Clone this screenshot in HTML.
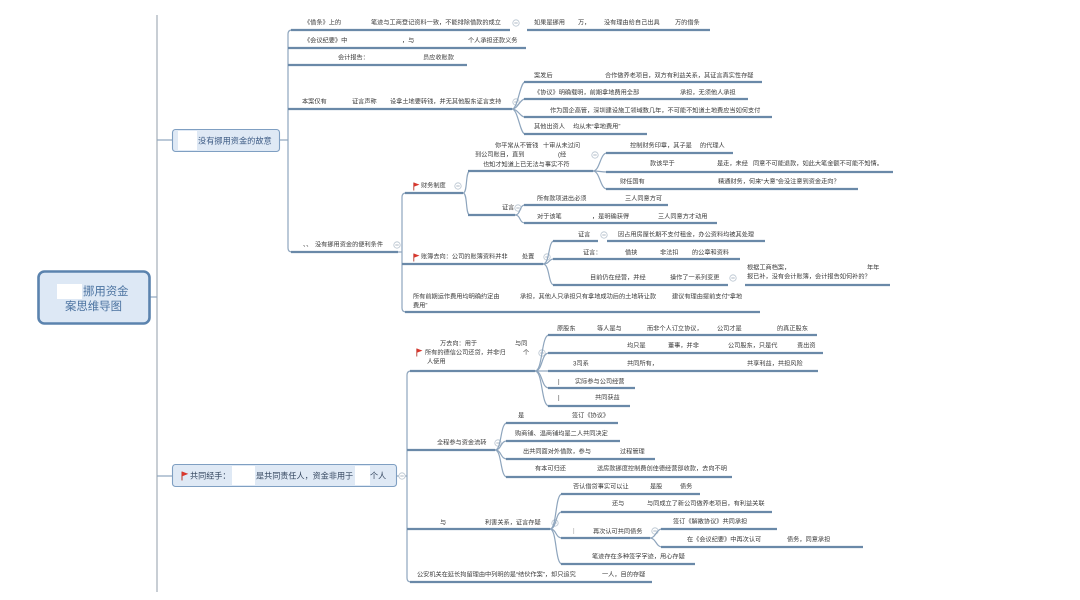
<!DOCTYPE html>
<html><head><meta charset="utf-8">
<style>
html,body{margin:0;padding:0;background:#fff;width:1080px;height:600px;overflow:hidden}
svg{display:block}
text{font-family:"Liberation Sans","Noto Sans CJK SC",sans-serif;font-size:6.2px;fill:#3a3a3a;dominant-baseline:central}
.u{stroke:#6a89a8;stroke-width:2.2;fill:none}
.c{stroke:#8ea5bd;stroke-width:1.2;fill:none}
.mc{fill:#fff;stroke:#b7c3cf;stroke-width:0.8}
.ml{stroke:#9aa8b6;stroke-width:0.8}
</style></head><body>
<svg width="1080" height="600" viewBox="0 0 1080 600">
<defs>
<symbol id="m" viewBox="0 0 8 8"><circle class="mc" cx="4" cy="4" r="3.2"/><line class="ml" x1="2.3" y1="4" x2="5.7" y2="4"/></symbol>
<symbol id="f" viewBox="0 0 7 9"><line x1="0.8" y1="0.5" x2="0.8" y2="8.5" stroke="#b03a30" stroke-width="0.9"/><polygon points="0.8,0.5 6.5,2.6 0.8,4.8" fill="#d9362c"/></symbol>
</defs>

<!-- far-left vertical -->
<line x1="157" y1="15" x2="157" y2="592" stroke="#aab4be" stroke-width="1.3"/>

<!-- ROOT -->
<line x1="150" y1="297" x2="157" y2="297" class="c"/>
<rect x="38.5" y="271.5" width="111" height="52" rx="6" fill="#dde8f5" stroke="#5b83ae" stroke-width="2.6"/>
<rect x="57" y="284" width="25" height="15" fill="#fff"/>
<text x="83" y="292" style="font-size:11.4px;fill:#4a72a0">挪用资金</text>
<text x="65" y="307" style="font-size:11.4px;fill:#4a72a0">案思维导图</text>

<!-- BRANCH 1 node -->
<line x1="157" y1="140" x2="172" y2="140" class="c"/>
<line x1="280" y1="140" x2="288" y2="140" class="c"/>
<rect x="172.5" y="129.5" width="107" height="22" rx="3" fill="#dfe9f5" stroke="#7f9fc2" stroke-width="1.1"/>
<rect x="178" y="131" width="19" height="19" fill="#fff"/>
<text x="198" y="141" style="font-size:8.2px;fill:#3a5882">没有挪用资金的故意</text>

<path class="c" d="M292,30 Q288,30 288,34 L288,248 Q288,252 292,252"/>

<!-- item 1 -->
<text x="304" y="23">《借条》上的</text>
<text x="371" y="23">笔迹与工商登记资料一致，不能排除借款的成立</text>
<line class="u" x1="291" y1="30" x2="510" y2="30"/>
<use href="#m" x="512" y="19" width="8" height="8"/>
<text x="534" y="23">如果是挪用</text>
<text x="578" y="23">万，</text>
<text x="604" y="23">没有理由给自己出具</text>
<text x="675" y="23">万的借条</text>
<line class="u" x1="527" y1="30" x2="710" y2="30"/>

<!-- item 2 -->
<text x="304" y="41">《会议纪要》中</text>
<text x="402" y="41">，与</text>
<text x="468" y="41">个人承担还款义务</text>
<line class="u" x1="288" y1="48" x2="526" y2="48"/>

<!-- item 3 -->
<text x="338" y="58">会计报告：</text>
<text x="423" y="58">员应收账款</text>
<line class="u" x1="288" y1="65" x2="467" y2="65"/>

<!-- item 4 -->
<text x="302" y="102">本案仅有</text>
<text x="352" y="102">证言声称</text>
<text x="390" y="102">设拿土地要转钱，并无其他股东证言支持</text>
<line class="u" x1="288" y1="109" x2="512" y2="109"/>
<use href="#m" x="512" y="98" width="8" height="8"/>
<path class="c" d="M512,109 C518,109 520,82 525,82"/>
<path class="c" d="M512,109 C518,109 520,99 525,99"/>
<path class="c" d="M512,109 C518,109 520,117 525,117"/>
<path class="c" d="M512,109 C518,109 520,134 525,134"/>
<text x="534" y="76">案发后</text>
<text x="605" y="76">合作做养老项目，双方有利益关系，其证言真实性存疑</text>
<line class="u" x1="524" y1="82" x2="762" y2="82"/>
<text x="534" y="93">《协议》明确载明，前期拿地费用全部</text>
<text x="680" y="93">承担，无须他人承担</text>
<line class="u" x1="524" y1="99" x2="748" y2="99"/>
<text x="550" y="111">作为国企高管，深圳建设施工领域数几年，不可能不知道土地费应当如何支付</text>
<line class="u" x1="524" y1="117" x2="772" y2="117"/>
<text x="534" y="127">其他出资人</text>
<text x="573" y="127">均从未“拿地费用”</text>
<line class="u" x1="524" y1="134" x2="647" y2="134"/>

<!-- item 5 -->
<text x="303" y="245">、、</text>
<text x="315" y="245">没有挪用资金的便利条件</text>
<line class="u" x1="291" y1="252" x2="398" y2="252"/>
<use href="#m" x="393" y="241" width="8" height="8"/>
<line x1="398" y1="252" x2="402" y2="252" class="c"/>
<path class="c" d="M406,193 Q402,193 402,197 L402,308 Q402,312 406,312"/>

<!-- 5a 财务制度 -->
<use href="#f" x="413" y="182" width="7" height="9"/>
<text x="421" y="186">财务制度</text>
<line class="u" x1="405" y1="193" x2="463" y2="193"/>
<use href="#m" x="454" y="182" width="8" height="8"/>
<path class="c" d="M463,193 C468,193 465,171 470,171"/>
<path class="c" d="M463,193 C468,193 465,215 470,215"/>

<text x="495" y="146">你平常从不管钱</text>
<text x="543" y="146">十审从未过问</text>
<text x="475" y="155">到公司账目，直到</text>
<text x="558" y="155">(经</text>
<text x="483" y="165">也知才知道上已无法与事实不符</text>
<line class="u" x1="468" y1="171" x2="593" y2="171"/>
<use href="#m" x="591" y="151" width="8" height="8"/>
<path class="c" d="M593,171 C600,171 600,153 607,153"/>
<path class="c" d="M593,171 C600,171 600,172 607,172"/>
<path class="c" d="M593,171 C600,171 600,189 607,189"/>
<text x="630" y="146">控制财务印章，其子是</text>
<text x="700" y="146">的代理人</text>
<line class="u" x1="606" y1="153" x2="733" y2="153"/>
<text x="650" y="164">款该早于</text>
<text x="717" y="164">是走，未经</text>
<text x="753" y="164">同意不可能退款，如此大笔金额不可能不知情。</text>
<line class="u" x1="606" y1="172" x2="893" y2="172"/>
<text x="620" y="182">财任国有</text>
<text x="718" y="182">精通财务，何来“大意”会没注意到资金走向？</text>
<line class="u" x1="606" y1="189" x2="858" y2="189"/>

<text x="502" y="208">证言</text>
<use href="#m" x="514" y="204" width="8" height="8"/>
<line class="u" x1="468" y1="215" x2="515" y2="215"/>
<path class="c" d="M515,215 C521,215 519,205 525,205"/>
<path class="c" d="M515,215 C521,215 519,223 525,223"/>
<text x="537" y="199">所有款项进出必须</text>
<text x="625" y="199">三人同意方可</text>
<line class="u" x1="524" y1="205" x2="668" y2="205"/>
<text x="537" y="217">对于该笔</text>
<text x="592" y="217">，是明确获得</text>
<text x="658" y="217">三人同意方才动用</text>
<line class="u" x1="524" y1="223" x2="717" y2="223"/>

<!-- 5b 账簿去向 -->
<use href="#f" x="413" y="253" width="7" height="9"/>
<text x="421" y="257">账簿去向：公司的账簿资料并非</text>
<text x="522" y="257">处置</text>
<use href="#m" x="543" y="253" width="8" height="8"/>
<line class="u" x1="402" y1="264" x2="543" y2="264"/>
<path class="c" d="M543,264 C550,264 548,241 554,241"/>
<path class="c" d="M543,264 C550,264 548,259 554,259"/>
<path class="c" d="M543,264 C550,264 548,285 554,285"/>
<text x="578" y="235">证言</text>
<line class="u" x1="553" y1="241" x2="598" y2="241"/>
<use href="#m" x="600" y="231" width="8" height="8"/>
<text x="618" y="235">因占用房屋长期不支付租金，办公资料均被其处理</text>
<line class="u" x1="607" y1="241" x2="765" y2="241"/>
<text x="583" y="253">证言：</text>
<text x="625" y="253">借挟</text>
<text x="660" y="253">非法扣</text>
<text x="692" y="253">的公章和资料</text>
<line class="u" x1="553" y1="259" x2="740" y2="259"/>
<text x="590" y="278">目前仍在经营，并经</text>
<text x="670" y="278">操作了一系列变更</text>
<line class="u" x1="553" y1="285" x2="728" y2="285"/>
<use href="#m" x="729" y="274" width="8" height="8"/>
<text x="747" y="268">根据工商档案，</text>
<text x="867" y="268">年年</text>
<text x="747" y="277">报已补，没有会计账簿，会计报告如何补的？</text>
<line class="u" x1="745" y1="285" x2="890" y2="285"/>

<!-- 5c -->
<text x="413" y="297">所有前期运作费用均明确约定由</text>
<text x="413" y="306">费用”</text>
<text x="520" y="297">承担，其他人只承担只有拿地成功后的土地转让款</text>
<text x="672" y="297">建议有理由提前支付“拿地</text>
<line class="u" x1="405" y1="312" x2="760" y2="312"/>

<!-- BRANCH 2 node -->
<line x1="157" y1="476" x2="172" y2="476" class="c"/>
<line x1="397" y1="476" x2="407" y2="476" class="c"/>
<rect x="172.5" y="464.5" width="224" height="22" rx="3" fill="#dfe9f5" stroke="#7f9fc2" stroke-width="1.1"/>
<rect x="232" y="466" width="23" height="19" fill="#fff"/>
<rect x="355" y="466" width="15" height="19" fill="#fff"/>
<use href="#f" x="181" y="471" width="8" height="10"/>
<text x="190" y="476" style="font-size:8.1px;fill:#34465f">共同经手：</text>
<text x="256" y="476" style="font-size:8.1px;fill:#34465f">是共同责任人，资金非用于</text>
<text x="370" y="476" style="font-size:8.1px;fill:#34465f">个人</text>
<use href="#m" x="398" y="472" width="8" height="8"/>

<path class="c" d="M411,371 Q407,371 407,375 L407,578 Q407,582 411,582"/>

<!-- B1 -->
<use href="#f" x="416" y="348" width="7" height="9"/>
<text x="440" y="344">万去向：用于</text>
<text x="515" y="344">与同</text>
<text x="425" y="353">所有的德信公司还贷，并非归</text>
<text x="523" y="353">个</text>
<text x="427" y="362">人使用</text>
<line class="u" x1="410" y1="371" x2="535" y2="371"/>
<use href="#m" x="538" y="349" width="8" height="8"/>
<path class="c" d="M535,371 C543,371 541,335 549,335"/>
<path class="c" d="M535,371 C543,371 541,353 549,353"/>
<path class="c" d="M535,371 C543,371 541,371 549,371"/>
<path class="c" d="M535,371 C543,371 541,388 549,388"/>
<path class="c" d="M535,371 C543,371 541,406 549,406"/>
<text x="557" y="329">原股东</text>
<text x="597" y="329">等人是与</text>
<text x="647" y="329">而非个人订立协议，</text>
<text x="717" y="329">公司才是</text>
<text x="777" y="329">的真正股东</text>
<line class="u" x1="548" y1="335" x2="817" y2="335"/>
<text x="627" y="346">均只是</text>
<text x="668" y="346">董事，并非</text>
<text x="728" y="346">公司股东，只是代</text>
<text x="797" y="346">责出资</text>
<line class="u" x1="548" y1="353" x2="823" y2="353"/>
<text x="573" y="364">3司系</text>
<text x="627" y="364">共同所有，</text>
<text x="747" y="364">共享利益，共担风险</text>
<line class="u" x1="548" y1="371" x2="818" y2="371"/>
<text x="558" y="382">|</text>
<text x="575" y="382">实际参与公司经营</text>
<line class="u" x1="548" y1="388" x2="635" y2="388"/>
<text x="558" y="398">|</text>
<text x="595" y="398">共同获益</text>
<line class="u" x1="548" y1="406" x2="630" y2="406"/>

<!-- B2 -->
<text x="437" y="443">全程参与资金流转</text>
<use href="#m" x="494" y="439" width="8" height="8"/>
<line class="u" x1="407" y1="450" x2="495" y2="450"/>
<path class="c" d="M495,450 C502,450 500,423 507,423"/>
<path class="c" d="M495,450 C502,450 500,441 507,441"/>
<path class="c" d="M495,450 C502,450 500,459 507,459"/>
<path class="c" d="M495,450 C502,450 500,477 507,477"/>
<text x="518" y="416">是</text>
<text x="572" y="416">签订《协议》</text>
<line class="u" x1="506" y1="423" x2="618" y2="423"/>
<text x="515" y="434">购商铺、温商铺均是二人共同决定</text>
<line class="u" x1="506" y1="441" x2="620" y2="441"/>
<text x="523" y="452">出共同面对外借款，参与</text>
<text x="620" y="452">过程管理</text>
<line class="u" x1="506" y1="459" x2="655" y2="459"/>
<text x="535" y="469">有本可归还</text>
<text x="597" y="469">送房款挪度控制费创佳德经营部收款，去向不明</text>
<line class="u" x1="506" y1="477" x2="732" y2="477"/>

<!-- B3 -->
<text x="440" y="523">与</text>
<text x="485" y="523">利害关系，证言存疑</text>
<use href="#m" x="551" y="519" width="8" height="8"/>
<line class="u" x1="407" y1="529" x2="550" y2="529"/>
<path class="c" d="M550,529 C557,529 555,494 562,494"/>
<path class="c" d="M550,529 C557,529 555,512 562,512"/>
<path class="c" d="M550,529 C557,529 555,538 562,538"/>
<path class="c" d="M550,529 C557,529 555,564 562,564"/>
<text x="573" y="487">否认借贷事实可以让</text>
<text x="650" y="487">是股</text>
<text x="680" y="487">债务</text>
<line class="u" x1="561" y1="494" x2="700" y2="494"/>
<text x="612" y="504">还与</text>
<text x="647" y="504">与同成立了新公司做养老项目，有利益关联</text>
<line class="u" x1="561" y1="512" x2="772" y2="512"/>
<text x="573" y="531" style="fill:#999">|</text>
<text x="593" y="532">再次认可共同债务</text>
<use href="#m" x="651" y="527" width="8" height="8"/>
<line class="u" x1="561" y1="538" x2="650" y2="538"/>
<path class="c" d="M650,538 C656,538 656,529 662,529"/>
<path class="c" d="M650,538 C656,538 656,547 662,547"/>
<text x="673" y="522">签订《解散协议》共同承担</text>
<line class="u" x1="661" y1="529" x2="777" y2="529"/>
<text x="687" y="540">在《会议纪要》中再次认可</text>
<text x="787" y="540">债务，同意承担</text>
<line class="u" x1="661" y1="547" x2="863" y2="547"/>
<text x="592" y="557">笔迹存在多种签字字迹，用心存疑</text>
<line class="u" x1="561" y1="564" x2="695" y2="564"/>

<!-- B4 -->
<text x="417" y="575">公安机关在延长拘留理由中列明的是“结伙作案”，却只追究</text>
<text x="602" y="575">一人，目的存疑</text>
<line class="u" x1="410" y1="582" x2="652" y2="582"/>
</svg>
</body></html>
